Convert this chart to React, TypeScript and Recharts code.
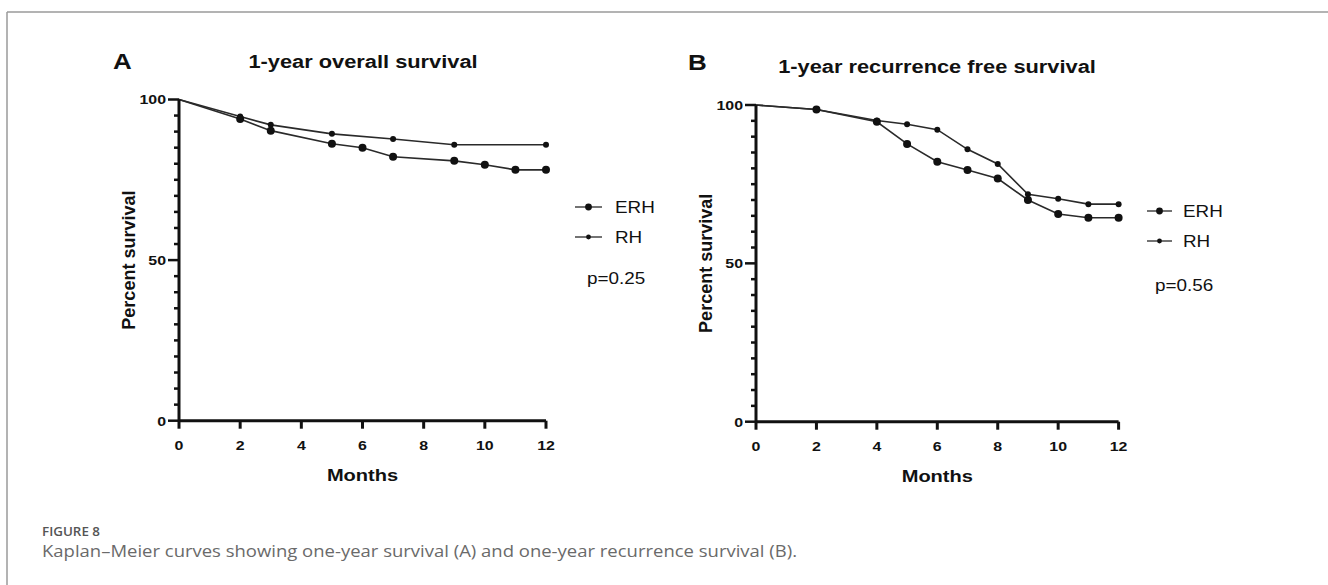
import React from 'react';
import { LineChart, Line, XAxis, YAxis, Legend } from 'recharts';

// A: 1-year overall survival
const osErhMonths = [0, 2, 3, 5, 6, 7, 9, 10, 11, 12];
const osErhValues = [100, 93.9, 90.3, 86.2, 85.0, 82.2, 80.9, 79.7, 78.1, 78.1];
const osRhMonths = [0, 2, 3, 5, 7, 9, 12];
const osRhValues = [100, 94.7, 92.1, 89.3, 87.7, 85.9, 85.9];

// B: 1-year recurrence free survival
const rfsErhMonths = [0, 2, 4, 5, 6, 7, 8, 9, 10, 11, 12];
const rfsErhValues = [100, 98.6, 94.7, 87.7, 82.1, 79.5, 76.8, 70.0, 65.6, 64.4, 64.4];
const rfsRhMonths = [0, 2, 4, 5, 6, 7, 8, 9, 10, 11, 12];
const rfsRhValues = [100, 98.6, 95.1, 93.9, 92.2, 86.0, 81.4, 71.8, 70.4, 68.7, 68.7];

const xTicks = [0, 2, 4, 6, 8, 10, 12];
const yTicks = [0, 5, 10, 15, 20, 25, 30, 35, 40, 45, 50, 55, 60, 65, 70, 75, 80, 85, 90, 95, 100];
const yLabelled = [0, 50, 100];

const FONT = '"Liberation Sans", Arial, sans-serif';
const CAPTION_FONT = '"Open Sans", "Noto Sans", sans-serif';
const INK = '#111';
// the figure is a bit wider than tall, so its lettering is stretched sideways
const SX = 1.18;

const toRows = (months: number[], values: number[]) =>
  months.map((month, i) => ({ month, value: values[i] }));

const dotRadius: Record<string, number> = { ERH: 4, RH: 3 };

function SText(props: {
  x: number;
  y: number;
  size: number;
  bold?: boolean;
  anchor?: 'start' | 'middle' | 'end';
  dy?: string;
  children: React.ReactNode;
}) {
  const { x, y, size, bold, anchor = 'start', dy, children } = props;
  return (
    <g transform={`translate(${x},${y}) scale(${SX},1)`}>
      <text x={0} y={0} dy={dy} textAnchor={anchor} fontFamily={FONT} fontWeight={bold ? 'bold' : 'normal'} fontSize={size} fill={INK}>
        {children}
      </text>
    </g>
  );
}

const makeDot = (r: number) => (props: any) => {
  const { cx, cy, payload, index } = props;
  if (payload.month === 0) return <g key={`d${index}`} />;
  return <circle key={`d${index}`} cx={cx} cy={cy} r={r} fill={INK} stroke="none" />;
};

function YTick(props: any) {
  const { x, y, payload } = props;
  const major = yLabelled.includes(payload.value);
  const len = major ? 11 : 5;
  return (
    <g>
      <line x1={x} y1={y} x2={x - len} y2={y} stroke={INK} strokeWidth={2.5} />
      {major && (
        <SText x={x - 13} y={y} dy="0.36em" anchor="end" size={13.5} bold>
          {payload.value}
        </SText>
      )}
    </g>
  );
}

function XTick(props: any) {
  const { x, y, payload } = props;
  return (
    <g>
      <line x1={x} y1={y} x2={x} y2={y + 8} stroke={INK} strokeWidth={3} />
      <SText x={x} y={y + 29} anchor="middle" size={13.5} bold>
        {payload.value}
      </SText>
    </g>
  );
}

function MonthsLabel(props: any) {
  const vb = props.viewBox || { x: 0, y: 0, width: 0, height: 0 };
  return (
    <SText x={vb.x + vb.width / 2} y={vb.y + 60} anchor="middle" size={17} bold>
      Months
    </SText>
  );
}

function PercentLabel(props: any) {
  const vb = props.viewBox || { x: 0, y: 0, width: 0, height: 0 };
  const cx = vb.x + 9.5;
  const cy = vb.y + vb.height / 2;
  return (
    <text
      x={cx}
      y={cy}
      dy="0.36em"
      transform={`rotate(-90, ${cx}, ${cy})`}
      textAnchor="middle"
      fontFamily={FONT}
      fontWeight="bold"
      fontSize={18}
      fill={INK}
    >
      Percent survival
    </text>
  );
}

function makeLegend(pText: string, lineW: number, textX: number, pX: number, pY: number) {
  return (props: any) => {
    const items = props.payload || [];
    return (
      <svg width={130} height={110} style={{ overflow: 'visible', display: 'block' }}>
        {items.map((it: any, i: number) => {
          const cy = 10 + i * 30;
          return (
            <g key={it.value}>
              <line x1={0} y1={cy} x2={lineW} y2={cy} stroke="#444" strokeWidth={1.5} />
              <circle cx={lineW / 2} cy={cy} r={dotRadius[it.value] - 0.6} fill={INK} />
              <SText x={textX} y={cy + 6} size={16}>
                {it.value}
              </SText>
            </g>
          );
        })}
        <SText x={pX} y={10 + pY} size={16}>
          {pText}
        </SText>
      </svg>
    );
  };
}

interface PanelProps {
  left: number;
  width: number;
  height: number;
  margin: { top: number; right: number; bottom: number; left: number };
  erh: { month: number; value: number }[];
  rh: { month: number; value: number }[];
  legendLeft: number;
  legendTop: number;
  legendContent: (p: any) => React.ReactNode;
}

function Panel({ left, width, height, margin, erh, rh, legendLeft, legendTop, legendContent }: PanelProps) {
  return (
    <div style={{ position: 'absolute', left, top: 0 }}>
      <LineChart width={width} height={height} margin={margin}>
        <XAxis
          type="number"
          dataKey="month"
          domain={[0, 12]}
          ticks={xTicks}
          interval={0}
          height={60}
          tickSize={0}
          tickMargin={0}
          tickLine={false}
          axisLine={{ stroke: INK, strokeWidth: 3 }}
          tick={(p: any) => <XTick {...p} />}
          label={{ value: 'Months', content: (p: any) => <MonthsLabel {...p} /> }}
        />
        <YAxis
          type="number"
          domain={[0, 100]}
          ticks={yTicks}
          interval={0}
          width={60}
          tickSize={0}
          tickMargin={0}
          tickLine={false}
          axisLine={{ stroke: INK, strokeWidth: 3 }}
          tick={(p: any) => <YTick {...p} />}
          label={{ value: 'Percent survival', content: (p: any) => <PercentLabel {...p} /> }}
        />
        <Legend
          layout="vertical"
          align="center"
          verticalAlign="middle"
          wrapperStyle={{ left: legendLeft, top: legendTop, width: 130, height: 110 }}
          content={legendContent}
        />
        <Line
          data={erh}
          dataKey="value"
          name="ERH"
          type="linear"
          stroke="#2a2a2a"
          strokeWidth={1.6}
          dot={makeDot(dotRadius.ERH)}
          activeDot={false}
          isAnimationActive={false}
        />
        <Line
          data={rh}
          dataKey="value"
          name="RH"
          type="linear"
          stroke="#2a2a2a"
          strokeWidth={1.6}
          dot={makeDot(dotRadius.RH)}
          activeDot={false}
          isAnimationActive={false}
        />
      </LineChart>
    </div>
  );
}

export default function App() {
  return (
    <div style={{ position: 'absolute', left: 0, top: 0, width: 1328, height: 585, background: '#fff', overflow: 'hidden' }}>
      <Panel
        left={0}
        width={640}
        height={500}
        margin={{ top: 99.5, right: 94, bottom: 19.3, left: 119 }}
        erh={toRows(osErhMonths, osErhValues)}
        rh={toRows(osRhMonths, osRhValues)}
        legendLeft={575}
        legendTop={197}
        legendContent={makeLegend('p=0.25', 27, 40, 12, 77)}
      />
      <Panel
        left={640}
        width={688}
        height={500}
        margin={{ top: 105, right: 209.4, bottom: 18.3, left: 56 }}
        erh={toRows(rfsErhMonths, rfsErhValues)}
        rh={toRows(rfsRhMonths, rfsRhValues)}
        legendLeft={507}
        legendTop={201}
        legendContent={makeLegend('p=0.56', 25, 36, 8, 80)}
      />
      <svg width={1328} height={585} style={{ position: 'absolute', left: 0, top: 0, pointerEvents: 'none' }}>
        <line x1={7} y1={12} x2={1328} y2={12} stroke="#9a9a9a" strokeWidth={1.5} />
        <line x1={7} y1={12} x2={7} y2={585} stroke="#9a9a9a" strokeWidth={1.5} />
        <SText x={113} y={69} size={22} bold>A</SText>
        <SText x={363} y={68} anchor="middle" size={18.5} bold>1-year overall survival</SText>
        <SText x={688} y={70} size={22} bold>B</SText>
        <SText x={937} y={73} anchor="middle" size={18.5} bold>1-year recurrence free survival</SText>
        <text x={42} y={536} fontFamily={CAPTION_FONT} fontWeight={600} fontSize={12.5} fill="#555" textLength={58} lengthAdjust="spacingAndGlyphs">
          FIGURE 8
        </text>
        <text x={42} y={557} fontFamily={CAPTION_FONT} fontSize={15.5} fill="#6a6a6a" textLength={755} lengthAdjust="spacingAndGlyphs">
          Kaplan–Meier curves showing one-year survival (A) and one-year recurrence survival (B).
        </text>
      </svg>
    </div>
  );
}
